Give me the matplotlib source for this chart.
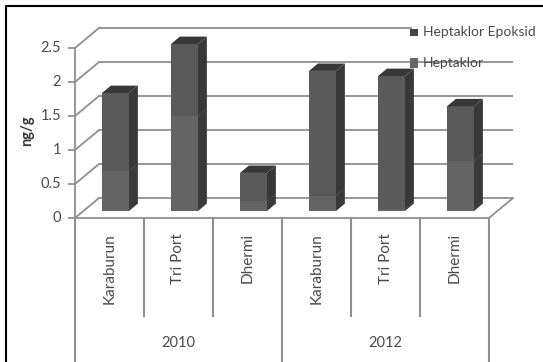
import matplotlib
matplotlib.use('Agg')
import matplotlib.pyplot as plt
from matplotlib.patches import Polygon

plt.rcParams['font.family'] = ['Lato', 'DejaVu Sans']

sites = ['Karaburun', 'Tri Port', 'Dhermi', 'Karaburun', 'Tri Port', 'Dhermi']
years = ['2010', '2012']
heptaklor = [0.59, 1.40, 0.15, 0.23, 0.03, 0.74]
epoksid = [1.145, 1.056, 0.41, 1.83, 1.955, 0.80]
y_ticks = [0, 0.5, 1, 1.5, 2, 2.5]
y_labels = ['0', '0.5', '1', '1.5', '2', '2.5']

W, H = 543, 362
X0, X1 = 75, 489      # front floor edge, pixels
Y0, Y25 = 218, 48     # value 0 and 2.5 on the front plane, pixels
CAT = (X1 - X0) / 6.0
DX = 24.0 / CAT       # wall offset in category units
DY = 20.0 / 68        # wall offset in value units
GRID = '#8f8f8f'
TEXT = '#4a4a4a'

fig = plt.figure(figsize=(W / 100, H / 100), dpi=100)
fig.patch.set_facecolor('white')
ax = fig.add_axes([X0 / W, 1 - Y0 / H, (X1 - X0) / W, (Y0 - Y25) / H])
ax.set_xlim(0, 6)
ax.set_ylim(0, 2.5)
ax.axis('off')

# outer frame, open on the right and at the bottom
fig.add_artist(plt.Line2D([6 / W, 6 / W, 1], [0, 1 - 6 / H, 1 - 6 / H], color='black', lw=1.5))

# back wall gridlines and their slanted ends on the left wall
for v, lab in zip(y_ticks, y_labels):
    ax.plot([DX, 6 + DX], [v + DY, v + DY], color=GRID, lw=1.3, clip_on=False,
            solid_capstyle='butt', zorder=1)
    ax.plot([0, DX], [v, v + DY], color=GRID, lw=1.3, clip_on=False, zorder=1)
    ax.plot([-0.09, 0], [v, v], color=GRID, lw=1.3, clip_on=False, zorder=1)
    ax.text(-0.2, v, lab, ha='right', va='center', fontsize=10.5, color=TEXT)

# floor outline and axis lines
ax.plot([0, 6, 6 + DX], [0, 0, DY], color=GRID, lw=1.3, clip_on=False, zorder=1)
ax.plot([0, 0], [0, 2.5], color=GRID, lw=1.3, clip_on=False, zorder=1)

# two level category axis below the floor
for i in range(7):
    low = -1.44 if i % 3 else -2.2
    ax.plot([i, i], [0, low], color=GRID, lw=1.5, clip_on=False, zorder=1)
for i, name in enumerate(sites):
    ax.text(i + 0.5, -0.22, name, rotation=90, ha='center', va='top', fontsize=11, color=TEXT)
for i, yr in enumerate(years):
    ax.text(1.5 + 3 * i, -1.84, yr, ha='center', va='center', fontsize=10.5, color=TEXT)

ax.text(-0.69, 1.28, 'ng/g', rotation=90, ha='center', va='center', fontsize=10.5,
        fontweight='bold', color='#333333')

# stacked 3d bars, faces built from the values
BAR_W = 27.0 / CAT
F = 0.35   # depth of the front face
B = 0.72   # depth of the back face


def box(x, y0, y1, front, side, top):
    fx, fy = F * DX, F * DY
    bx, by = B * DX, B * DY
    l, r = x - BAR_W / 2 + fx, x + BAR_W / 2 + fx
    ax.add_patch(Polygon([(l, y0 + fy), (r, y0 + fy), (r, y1 + fy), (l, y1 + fy)],
                         fc=front, ec='none', zorder=3, clip_on=False))
    ax.add_patch(Polygon([(r, y0 + fy), (r - fx + bx, y0 + by), (r - fx + bx, y1 + by), (r, y1 + fy)],
                         fc=side, ec='none', zorder=3, clip_on=False))
    ax.add_patch(Polygon([(l, y1 + fy), (r, y1 + fy), (r - fx + bx, y1 + by), (l - fx + bx, y1 + by)],
                         fc=top, ec='none', zorder=3, clip_on=False))


for i, (a, b) in enumerate(zip(heptaklor, epoksid)):
    x = i + 0.5 - 2.4 / CAT
    box(x, 0, a, '#646464', '#3a3a3a', '#3a3a3a')
    box(x, a, a + b, '#5a5a5a', '#383838', '#383838')

# legend sits over the gridlines, the first entry on a white patch
fig.patches.extend([
    plt.Rectangle((412 / W, 1 - 42 / H), 125 / W, 22 / H, transform=fig.transFigure, fc='white', ec='none'),
    plt.Rectangle((410 / W, 1 - 36 / H), 8 / W, 7 / H, transform=fig.transFigure, fc='#444444', ec='none'),
    plt.Rectangle((410 / W, 1 - 68 / H), 8 / W, 10 / H, transform=fig.transFigure, fc='#666666', ec='none'),
])
fig.text(423 / W, 1 - 32 / H, 'Heptaklor Epoksid', ha='left', va='center', fontsize=10, color=TEXT)
fig.text(423 / W, 1 - 63 / H, 'Heptaklor', ha='left', va='center', fontsize=10, color=TEXT)

fig.savefig('out.png', dpi=100)
